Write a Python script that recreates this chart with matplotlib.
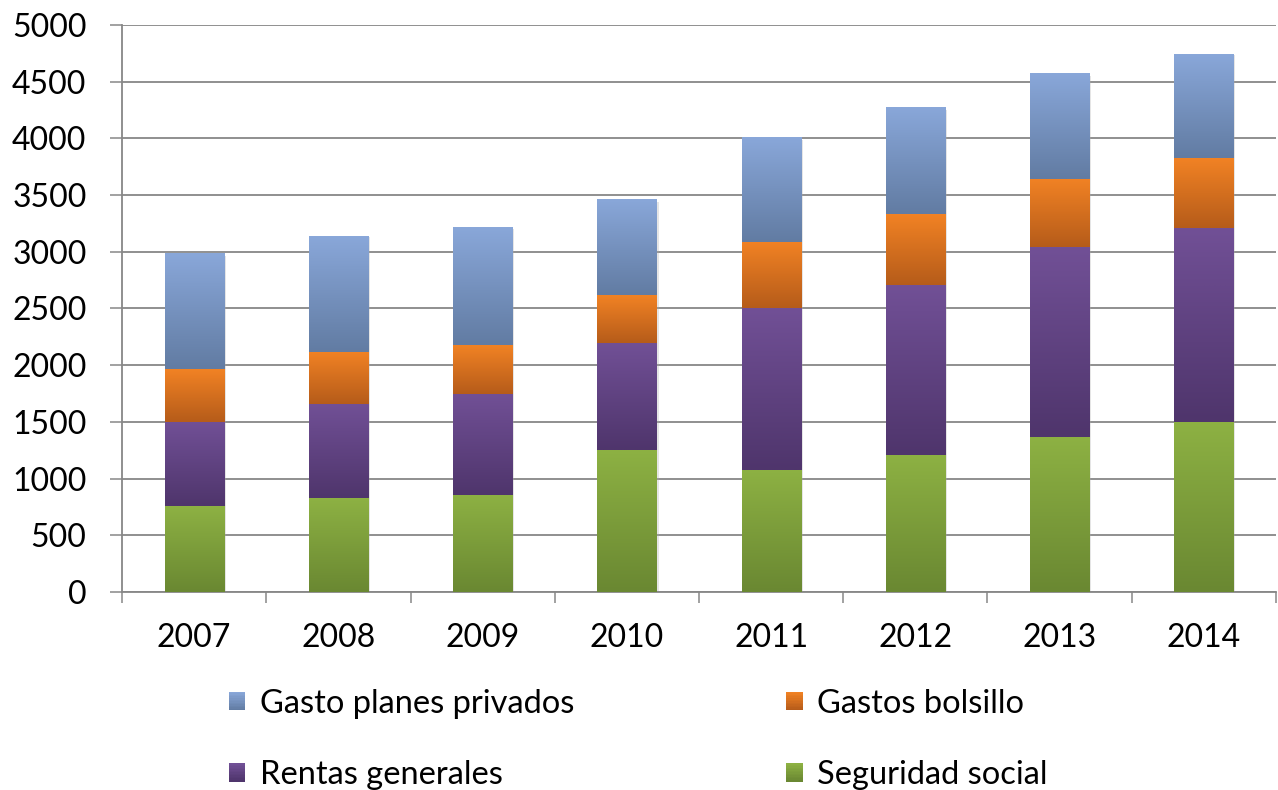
import numpy as np
import matplotlib
matplotlib.use('Agg')
import matplotlib.pyplot as plt
import matplotlib.patheffects as pe
from matplotlib.colors import LinearSegmentedColormap, to_rgb
from matplotlib.patches import Rectangle
from matplotlib.legend_handler import HandlerBase

plt.rcParams['font.family'] = ['Lato', 'DejaVu Sans']

# Health spending by source, 2007-2014
years = ['2007', '2008', '2009', '2010', '2011', '2012', '2013', '2014']
seguridad_social = [756, 826, 859, 1256, 1079, 1212, 1368, 1500]
rentas_generales = [744, 830, 891, 944, 1421, 1491, 1670, 1714]
gastos_bolsillo = [465, 462, 432, 415, 582, 626, 601, 614]
gasto_planes_privados = [1014, 1022, 1033, 838, 918, 936, 927, 915]

# (top colour, bottom colour) for each series gradient
series = [
    ('Seguridad social', seguridad_social, ('#8DB143', '#6A8832')),
    ('Rentas generales', rentas_generales, ('#715096', '#4F356C')),
    ('Gastos bolsillo', gastos_bolsillo, ('#F18224', '#B65C1A')),
    ('Gasto planes privados', gasto_planes_privados, ('#89A7D9', '#627CA3')),
]

GRID = '#878787'


class HandlerGradient(HandlerBase):
    def __init__(self, top, bottom, steps=12):
        super().__init__()
        self.top, self.bottom, self.steps = to_rgb(top), to_rgb(bottom), steps

    def create_artists(self, legend, orig_handle, xdescent, ydescent,
                       width, height, fontsize, trans):
        arts = []
        h = height / self.steps
        for i in range(self.steps):
            t = i / (self.steps - 1)
            c = [b + (a - b) * t for a, b in zip(self.top, self.bottom)]
            arts.append(Rectangle((-xdescent, -ydescent + i * h), width, h * 1.05,
                                  facecolor=c, edgecolor='none', transform=trans))
        return arts


fig, ax = plt.subplots(figsize=(12.78, 7.90), dpi=100)
fig.subplots_adjust(left=0.0955, right=0.9984, bottom=0.2506, top=0.9684)

x = np.arange(len(years))
bottom = np.zeros(len(years))
handles = {}
for name, vals, (top_c, bot_c) in series:
    mid = [(a + b) / 2 for a, b in zip(to_rgb(top_c), to_rgb(bot_c))]
    bars = ax.bar(x, vals, 0.41, bottom=bottom, color=mid, zorder=2,
                  path_effects=[pe.SimplePatchShadow(offset=(1.5, -1), shadow_rgbFace='#aaaaaa', alpha=0.3),
                                pe.Normal()])
    cmap = LinearSegmentedColormap.from_list(name, [bot_c, top_c])
    grad = np.linspace(1, 0, 64).reshape(-1, 1)
    for p in bars.patches:
        x0, y0, w, h = p.get_x(), p.get_y(), p.get_width(), p.get_height()
        ax.imshow(grad, cmap=cmap, extent=[x0, x0 + w, y0, y0 + h],
                  aspect='auto', zorder=3, interpolation='bilinear', vmin=0, vmax=1)
    handles[name] = (bars, top_c, bot_c)
    bottom += np.array(vals)

ax.set_xlim(-0.5, len(years) - 0.5)
ax.set_ylim(0, 5000)

# y axis
ax.set_yticks(np.arange(0, 5001, 500))
ax.yaxis.grid(True, color=GRID, linewidth=1.3, zorder=0)
ax.set_axisbelow(True)
ax.tick_params(axis='y', length=8.6, width=1.1, color=GRID, pad=17, labelsize=23)

# x axis: ticks between categories, labels at the centres
ax.set_xticks(np.arange(-0.5, len(years)), labels=[])
ax.set_xticks(x, labels=years, minor=True)
ax.tick_params(axis='x', which='major', length=8, width=1.1, color=GRID)
ax.tick_params(axis='x', which='minor', length=0, pad=22, labelsize=23)

for s in ['top', 'right']:
    ax.spines[s].set_visible(False)
for s in ['left', 'bottom']:
    ax.spines[s].set_color(GRID)
    ax.spines[s].set_linewidth(1.3)

# legend: two rows, two columns
order = ['Gasto planes privados', 'Rentas generales', 'Gastos bolsillo', 'Seguridad social']
hmap = {handles[n][0]: HandlerGradient(handles[n][1], handles[n][2]) for n in order}
leg = fig.legend([handles[n][0] for n in order], order, handler_map=hmap,
                 loc='lower left', bbox_to_anchor=(0.156, -0.037), ncol=2,
                 fontsize=23.5, frameon=False, handlelength=0.5, handleheight=0.5,
                 handletextpad=0.45, labelspacing=1.26, columnspacing=6.5)

fig.savefig('out.png', dpi=100)
